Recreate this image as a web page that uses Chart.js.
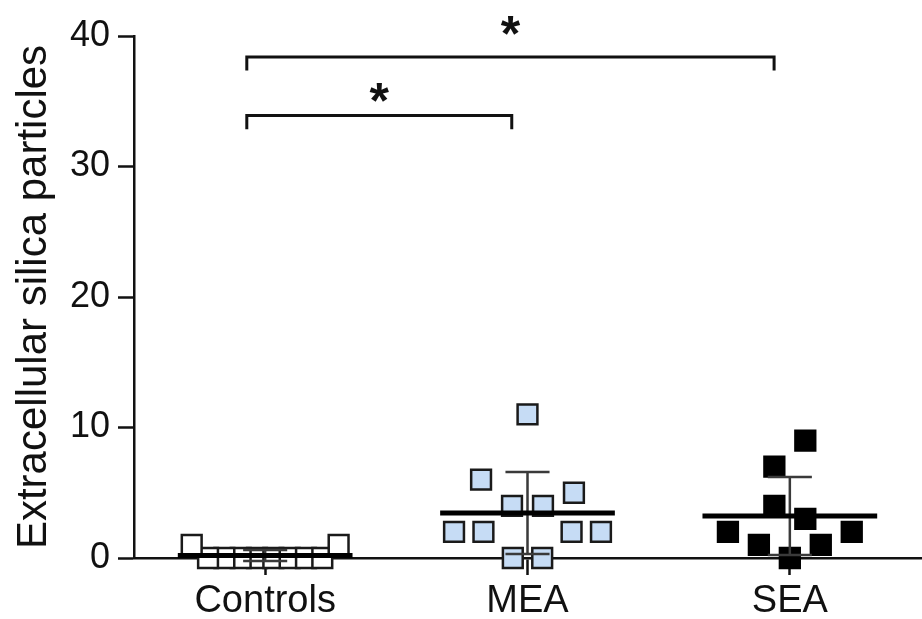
<!DOCTYPE html>
<html>
<head>
<meta charset="utf-8">
<script src="https://cdn.jsdelivr.net/npm/chart.js@4"></script>
<style>
  html, body { margin: 0; padding: 0; background: #fff; }
  #wrap { width: 922px; height: 619px; }
</style>
</head>
<body>
<div id="wrap"><canvas id="silicaChart"></canvas></div>
<script>
const groups = ["Controls", "MEA", "SEA"];
const controls = [0, 0, 0, 0, 0, 0, 0, 0, 1, 1];
const mea = [0, 0, 2, 2, 2, 2, 4, 4, 6, 5, 11];
const sea = [0, 1, 1, 2, 2, 4, 3, 7, 9];
const yTicks = [0, 10, 20, 30, 40];

// significance brackets: which groups, bracket height, star height
const bracketPairs = [[0, 1], [0, 2]];
const bracketLevels = [33.9, 38.4];
const starLevels = [35.5, 40.6];
const bracketLabels = ["*", "*"];

Chart.defaults.font.family = "'Liberation Sans', Arial, sans-serif";
Chart.defaults.color = "#111";

/* spread the points of one group sideways, row by row (column scatter) */
function swarm(values, groupIndex) {
  const ROW_SPAN = 3, STEP = 0.118, HALF_MAX = 0.28;
  const order = values.map((v, i) => i).sort((a, b) => values[a] - values[b]);
  const rows = [];
  order.forEach(i => {
    const row = rows[rows.length - 1];
    if (row && values[i] - values[row[0]] < ROW_SPAN) row.push(i);
    else rows.push([i]);
  });
  const xs = [];
  rows.forEach(row => {
    row.sort((a, b) => a - b);
    const n = row.length;
    const step = n > 1 ? Math.min(STEP, HALF_MAX / ((n - 1) / 2)) : STEP;
    row.forEach((idx, k) => {
      let slot;
      if (n % 2) slot = k === 0 ? 0 : Math.ceil(k / 2) * (k % 2 ? -1 : 1);
      else slot = (Math.floor(k / 2) + 0.5) * (k % 2 ? 1 : -1);
      xs[idx] = groupIndex + slot * step;
    });
  });
  return values.map((v, i) => ({ x: xs[i], y: v }));
}

function mean(a) { return a.reduce((s, v) => s + v, 0) / a.length; }
function sd(a) {
  const m = mean(a);
  return Math.sqrt(a.reduce((s, v) => s + (v - m) * (v - m), 0) / (a.length - 1));
}

/* mean line + SD whiskers */
const summaryPlugin = {
  id: "summary",
  afterDatasetsDraw(chart) {
    const { ctx, scales: { x, y } } = chart;
    ctx.save();
    [controls, mea, sea].forEach((vals, i) => {
      const m = mean(vals), s = sd(vals);
      const cx = x.getPixelForValue(i);
      ctx.strokeStyle = "#3a3a3a";
      ctx.lineWidth = 2.5;
      ctx.beginPath();
      ctx.moveTo(cx, y.getPixelForValue(m - s));
      ctx.lineTo(cx, y.getPixelForValue(m + s));
      [m - s, m + s].forEach(v => {
        ctx.moveTo(x.getPixelForValue(i - 0.084), y.getPixelForValue(v));
        ctx.lineTo(x.getPixelForValue(i + 0.084), y.getPixelForValue(v));
      });
      ctx.stroke();
      ctx.strokeStyle = "#000";
      ctx.lineWidth = 5;
      ctx.beginPath();
      ctx.moveTo(x.getPixelForValue(i - 0.333), y.getPixelForValue(m));
      ctx.lineTo(x.getPixelForValue(i + 0.333), y.getPixelForValue(m));
      ctx.stroke();
    });
    ctx.restore();
  }
};

/* significance brackets with stars */
const bracketPlugin = {
  id: "brackets",
  afterDraw(chart) {
    const { ctx, scales: { x, y } } = chart;
    ctx.save();
    ctx.strokeStyle = "#111";
    ctx.fillStyle = "#111";
    ctx.lineWidth = 3;
    ctx.font = "bold 50px 'Liberation Sans', Arial, sans-serif";
    ctx.textAlign = "center";
    ctx.textBaseline = "alphabetic";
    bracketPairs.forEach(([a, b], k) => {
      const x1 = x.getPixelForValue(a - 0.07);
      const x2 = x.getPixelForValue(b - 0.06);
      const yb = y.getPixelForValue(bracketLevels[k]);
      const yd = y.getPixelForValue(bracketLevels[k] - 1.05);
      ctx.beginPath();
      ctx.moveTo(x1, yd);
      ctx.lineTo(x1, yb);
      ctx.lineTo(x2, yb);
      ctx.lineTo(x2, yd);
      ctx.stroke();
      ctx.fillText(bracketLabels[k], (x1 + x2) / 2, y.getPixelForValue(starLevels[k]) + 0.46 * 50);
    });
    ctx.restore();
  }
};

new Chart(document.getElementById("silicaChart"), {
  type: "scatter",
  data: {
    datasets: [
      { label: "Controls", data: swarm(controls, 0), backgroundColor: "#fff", borderColor: "#1a1a1a", clip: false },
      { label: "MEA", data: swarm(mea, 1), backgroundColor: "#c6dcf5", borderColor: "#1a1a1a", clip: false },
      { label: "SEA", data: swarm(sea, 2), backgroundColor: "#000", borderColor: "#000", clip: false }
    ]
  },
  options: {
    responsive: true,
    maintainAspectRatio: false,
    animation: false,
    layout: { autoPadding: false, padding: { top: 36, right: 1, bottom: 0, left: 0 } },
    elements: { point: { pointStyle: "rect", radius: 14, hoverRadius: 14, borderWidth: 2.5 } },
    plugins: { legend: { display: false }, tooltip: { enabled: false } },
    scales: {
      x: {
        type: "linear",
        min: -0.5,
        max: 2.5,
        z: 1,
        afterBuildTicks: s => { s.ticks = groups.map((g, i) => ({ value: i })); },
        afterFit: s => { s.height = 61; },
        grid: { drawOnChartArea: false, tickLength: 17, tickWidth: 2.5, tickColor: "#111" },
        border: { color: "#111", width: 2.5 },
        ticks: { padding: 4, font: { size: 38 }, callback: v => groups[v] }
      },
      y: {
        min: 0,
        max: 40,
        afterBuildTicks: s => { s.ticks = yTicks.map(v => ({ value: v })); },
        afterFit: s => { s.width = 134; },
        grid: { drawOnChartArea: false, tickLength: 16, tickWidth: 2.5, tickColor: "#111" },
        border: { color: "#111", width: 2.5 },
        ticks: { padding: 8, font: { size: 36 } },
        title: {
          display: true,
          text: "Extracellular silica particles",
          font: { size: 42 },
          padding: { top: 9, bottom: 0 }
        }
      }
    }
  },
  plugins: [summaryPlugin, bracketPlugin]
});
</script>
</body>
</html>
